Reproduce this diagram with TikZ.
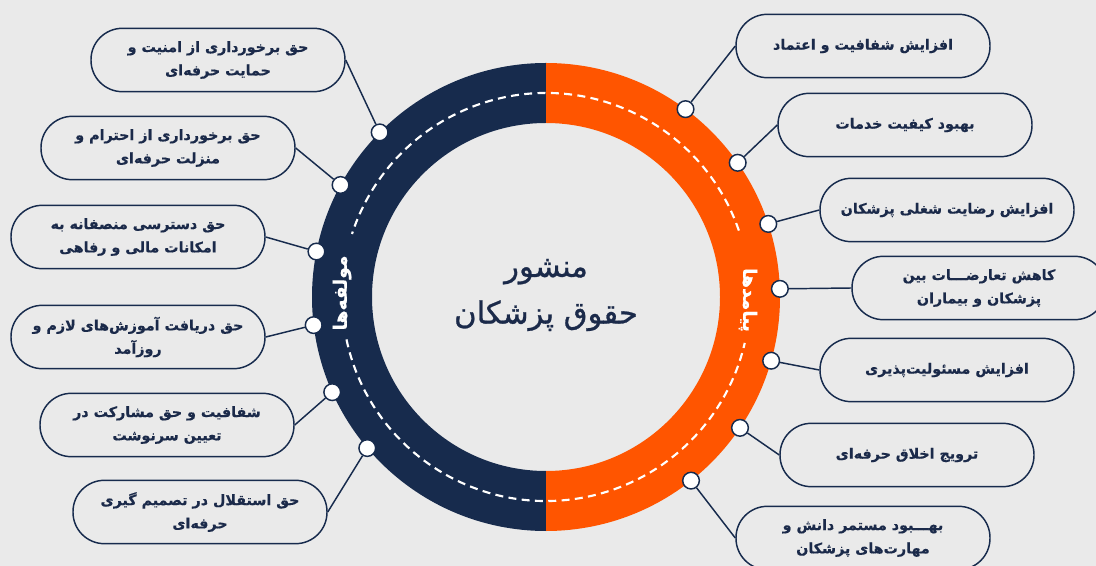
\documentclass[tikz,border=0pt]{standalone}
\usepackage{fontspec}
\usetikzlibrary{calc}
\TeXXeTstate=1
\newfontfamily\farsi[Script=Arabic,BoldFeatures={FakeBold=0.6}]{DejaVu Sans}
\newfontfamily\farsimed[Script=Arabic,FakeBold=0.9]{DejaVu Sans}
\definecolor{navy}{HTML}{172B4D}
\definecolor{orng}{HTML}{FF5500}
\definecolor{bgc}{HTML}{EAEAEA}
\definecolor{txt}{HTML}{1B2A4A}
\begin{document}
\begin{tikzpicture}[x=0.75pt,y=0.75pt,
 pill/.style={draw=navy, fill=bgc, line width=1.1pt, rounded corners=23.5pt, minimum width=190.5pt, minimum height=47.5pt, align=center, text=txt, font=\farsi\bfseries\fontsize{10.7}{17.5}\selectfont, inner sep=0pt},
 dot/.style={circle, draw=navy, fill=white, line width=1.1pt, minimum size=12.5pt, inner sep=0pt},
 link/.style={draw=navy, line width=1.1pt},
 ringlbl/.style={text=white, font=\farsi\bfseries\fontsize{14}{16}\selectfont}]
\fill[bgc] (0,0) rectangle (1096,-566);
\useasboundingbox (0,0) rectangle (1096,-566);
\clip (0,0) rectangle (1096,-566);
\coordinate (c) at (546,-297);
\fill[navy] ($(c)+(90:175.5pt)$) arc[start angle=90,end angle=270,radius=175.5pt] -- ($(c)+(270:130.5pt)$) arc[start angle=270,end angle=90,radius=130.5pt] -- cycle;
\fill[orng] ($(c)+(-90:175.5pt)$) arc[start angle=-90,end angle=90,radius=175.5pt] -- ($(c)+(90:130.5pt)$) arc[start angle=90,end angle=-90,radius=130.5pt] -- cycle;
\draw[white, line width=1.6pt, dash pattern=on 6pt off 4pt] ($(c)+(19:153pt)$) arc[start angle=19,end angle=162,radius=153pt];
\draw[white, line width=1.6pt, dash pattern=on 6pt off 4pt] ($(c)+(192:153pt)$) arc[start angle=192,end angle=347,radius=153pt];

\node[text=txt, font=\farsimed\fontsize{23}{35}\selectfont, align=center] (title) at (546,-295) {\beginR منشور\endR\\\beginR حقوق پزشکان\endR};
\node[ringlbl, rotate=90] (lblL) at (342,-293) {\beginR مولفه‌ها\endR};
\node[ringlbl, rotate=-90] (lblR) at (748,-300) {\beginR پیامدها\endR};

% dots
\node[dot] (dl1) at ($(c)+(135.3:175.5pt)$) {};
\node[dot] (dl2) at ($(c)+(151.4:175.5pt)$) {};
\node[dot] (dl3) at ($(c)+(168.8:175.5pt)$) {};
\node[dot] (dl4) at ($(c)+(186.9:175.5pt)$) {};
\node[dot] (dl5) at ($(c)+(204:175.5pt)$) {};
\node[dot] (dl6) at ($(c)+(220.2:175.5pt)$) {};
\node[dot] (dr1) at ($(c)+(53.4:175.5pt)$) {};
\node[dot] (dr2) at ($(c)+(35:175.5pt)$) {};
\node[dot] (dr3) at ($(c)+(18.2:175.5pt)$) {};
\node[dot] (dr4) at ($(c)+(2:175.5pt)$) {};
\node[dot] (dr5) at ($(c)+(-15.8:175.5pt)$) {};
\node[dot] (dr6) at ($(c)+(-34:175.5pt)$) {};
\node[dot] (dr7) at ($(c)+(-51.7:175.5pt)$) {};

% left boxes
\node[pill] (l1) at (218,-60) {\beginR حق برخورداری از امنیت و\endR\\\beginR حمایت حرفه‌ای\endR};
\node[pill] (l2) at (168,-148) {\beginR حق برخورداری از احترام و\endR\\\beginR منزلت حرفه‌ای\endR};
\node[pill] (l3) at (138,-237) {\beginR حق دسترسی منصفانه به\endR\\\beginR امکانات مالی و رفاهی\endR};
\node[pill] (l4) at (138,-337) {\beginR حق دریافت آموزش‌های لازم و\endR\\\beginR روزآمد\endR};
\node[pill] (l5) at (167,-425) {\beginR شفافیت و حق مشارکت در\endR\\\beginR تعیین سرنوشت\endR};
\node[pill] (l6) at (200,-512) {\beginR حق استقلال در تصمیم گیری\endR\\\beginR حرفه‌ای\endR};

% right boxes
\node[pill] (r1) at (863,-46) {\beginR افزایش شفافیت و اعتماد\endR};
\node[pill] (r2) at (905,-125) {\beginR بهبود کیفیت خدمات\endR};
\node[pill] (r3) at (947,-210) {\beginR افزایش رضایت شغلی پزشکان\endR};
\node[pill] (r4) at (979,-288) {\beginR کاهش تعارضـــات بین\endR\\\beginR پزشکان و بیماران\endR};
\node[pill] (r5) at (947,-370) {\beginR افزایش مسئولیت‌پذیری\endR};
\node[pill] (r6) at (907,-455) {\beginR ترویج اخلاق حرفه‌ای\endR};
\node[pill] (r7) at (863,-538) {\beginR بهـــبود مستمر دانش و\endR\\\beginR مهارت‌های پزشکان\endR};

% connectors
\draw[link] (l1.east) -- (dl1);
\draw[link] (l2.east) -- (dl2);
\draw[link] (l3.east) -- (dl3);
\draw[link] (l4.east) -- (dl4);
\draw[link] (l5.east) -- (dl5);
\draw[link] (l6.east) -- (dl6);
\draw[link] (r1.west) -- (dr1);
\draw[link] (r2.west) -- (dr2);
\draw[link] (r3.west) -- (dr3);
\draw[link] (r4.west) -- (dr4);
\draw[link] (r5.west) -- (dr5);
\draw[link] (r6.west) -- (dr6);
\draw[link] (r7.west) -- (dr7);
\end{tikzpicture}
\end{document}
